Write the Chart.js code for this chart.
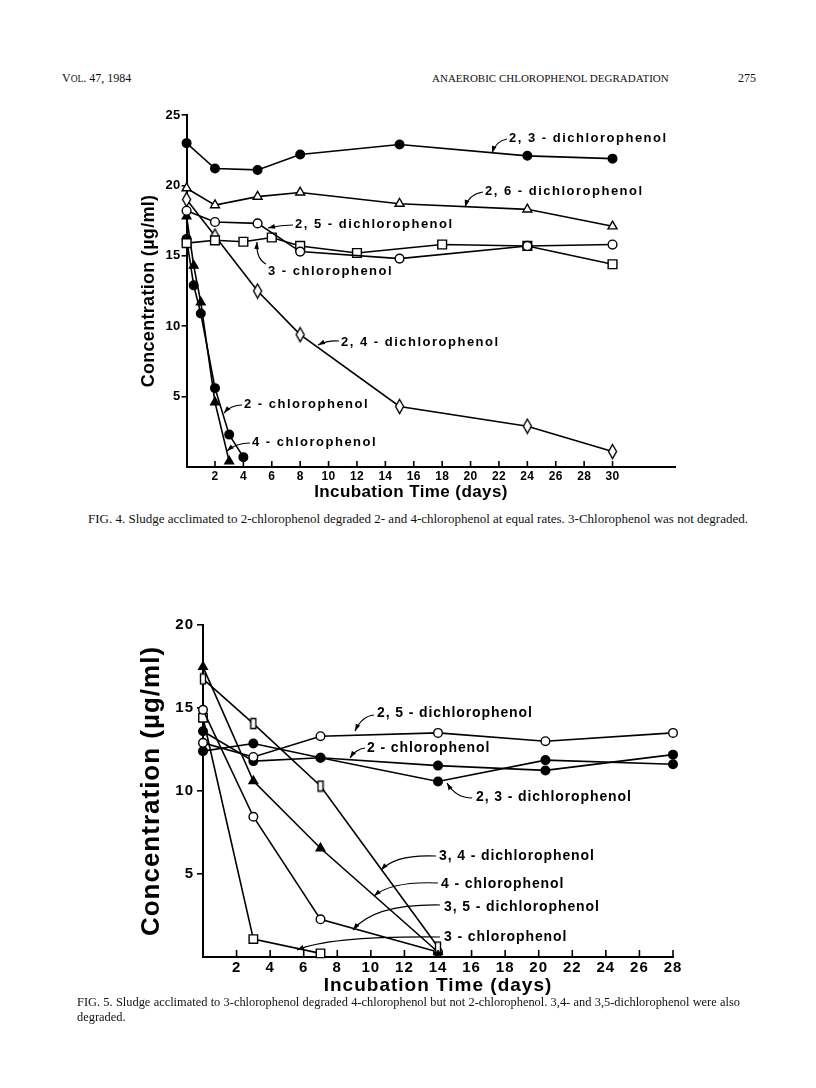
<!DOCTYPE html>
<html><head><meta charset="utf-8">
<script src="https://cdn.jsdelivr.net/npm/chart.js@4.4.0/dist/chart.umd.min.js"></script>
<style>
html,body{margin:0;padding:0;background:#fff;}
body{width:816px;height:1088px;position:relative;overflow:hidden;font-family:"Liberation Serif","Times New Roman",serif;color:#111;}
.hdr{position:absolute;top:71px;font-size:12px;line-height:14px;white-space:nowrap;}
.cap{position:absolute;font-size:13px;line-height:15px;white-space:nowrap;}
canvas{position:absolute;left:0;}
</style></head><body>
<div class="hdr" style="left:62px">V<span style="font-size:9.5px">OL</span>. 47, 1984</div>
<div class="hdr" style="left:432px;font-size:11px">ANAEROBIC CHLOROPHENOL DEGRADATION</div>
<div class="hdr" style="left:738px">275</div>
<canvas id="c4" width="816" height="405" style="top:100px"></canvas>
<div class="cap" style="left:88px;top:511px">FIG. 4. Sludge acclimated to 2-chlorophenol degraded 2- and 4-chlorophenol at equal rates. 3-Chlorophenol was not degraded.</div>
<canvas id="c5" width="816" height="390" style="top:610px"></canvas>
<div class="cap" style="left:77px;top:995px;width:663px;font-size:12.4px;text-align:justify;text-align-last:justify;">FIG. 5. Sludge acclimated to 3-chlorophenol degraded 4-chlorophenol but not 2-chlorophenol. 3,4- and 3,5-dichlorophenol were also</div>
<div class="cap" style="left:77px;top:1010px;font-size:12.4px">degraded.</div>
<script>
// ---------------- DATA: Figure 4 ----------------
const fig4Names = ['2, 3 - dichlorophenol','2, 6 - dichlorophenol','2, 5 - dichlorophenol','3 - chlorophenol','2, 4 - dichlorophenol','2 - chlorophenol','4 - chlorophenol'];
const fig4DaysA = [0, 2, 5, 8, 15, 24, 30];
const fig4_23DCP = [23.0, 21.2, 21.1, 22.2, 22.9, 22.1, 21.9];
const fig4_26DCP = [19.8, 18.6, 19.2, 19.5, 18.7, 18.3, 17.1];
const fig4_25DCP = [18.2, 17.4, 17.3, 15.3, 14.8, 15.7, 15.8];
const fig4_24DCP = [19.0, 16.4, 12.5, 9.4, 4.3, 2.9, 1.1];
const fig4Days3CP = [0, 2, 4, 6, 8, 12, 18, 24, 30];
const fig4_3CP = [15.9, 16.1, 16.0, 16.3, 15.7, 15.2, 15.8, 15.7, 14.4];
const fig4Days2CP = [0, 0.5, 1, 2, 3, 4];
const fig4_2CP = [16.2, 12.9, 10.9, 5.6, 2.3, 0.7];
const fig4Days4CP = [0, 0.5, 1, 2, 3];
const fig4_4CP = [17.8, 14.3, 11.7, 4.6, 0.4];
const fig4XTicks = [2,4,6,8,10,12,14,16,18,20,22,24,26,28,30];
const fig4YTicks = [5,10,15,20,25];

// ---------------- DATA: Figure 5 ----------------
const fig5Names = ['2, 5 - dichlorophenol','2 - chlorophenol','2, 3 - dichlorophenol','3, 4 - dichlorophenol','4 - chlorophenol','3, 5 - dichlorophenol','3 - chlorophenol'];
const fig5DaysLong = [0, 3, 7, 14, 20.4, 28];
const fig5_25DCP = [12.9, 12.05, 13.3, 13.5, 13.0, 13.5];
const fig5_2CP = [12.4, 12.86, 12.0, 11.53, 11.24, 12.19];
const fig5_23DCP = [13.6, 11.8, 12.0, 10.57, 11.86, 11.61];
const fig5DaysShort = [0, 3, 7, 14];
const fig5_34DCP = [16.75, 14.06, 10.3, 0.6];
const fig5_4CP = [17.48, 10.6, 6.55, 0.3];
const fig5_35DCP = [14.89, 8.45, 2.27, 0.3];
const fig5Days3CP = [0, 3, 7];
const fig5_3CP = [14.41, 1.08, 0.22];
const fig5XTicks = [2,4,6,8,10,12,14,16,18,20,22,24,26,28];
const fig5YTicks = [5,10,15,20];

const xTitleText = 'Incubation Time (days)';
const yTitleText = 'Concentration (\u00b5g/ml)';

// ---------------- helpers ----------------
const F = "'Liberation Sans', Arial, Helvetica, sans-serif";
const pts = (xs, ys) => xs.map((x, i) => ({x: x, y: ys[i]}));

function shapeCanvas(kind, w, h, lw) {
  const c = document.createElement('canvas');
  c.width = Math.ceil(w + lw * 2); c.height = Math.ceil(h + lw * 2);
  const g = c.getContext('2d');
  const cx = c.width / 2, cy = c.height / 2;
  g.beginPath();
  if (kind === 'diamond') {
    g.moveTo(cx, cy - h / 2); g.lineTo(cx + w / 2, cy); g.lineTo(cx, cy + h / 2); g.lineTo(cx - w / 2, cy); g.closePath();
  } else {
    g.rect(cx - w / 2, cy - h / 2, w, h);
  }
  g.fillStyle = '#fff'; g.fill();
  g.lineWidth = lw; g.strokeStyle = '#000'; g.stroke();
  return c;
}
const tallDiamond = shapeCanvas('diamond', 8, 14, 1.4);
const narrowRect = shapeCanvas('rect', 5, 10, 1.4);

function ds(label, data, style, radius, filled) {
  return {
    label: label, data: data, showLine: true, tension: 0,
    borderColor: '#000', borderWidth: 1.6,
    pointStyle: style, pointRadius: radius, pointHoverRadius: radius,
    pointBackgroundColor: filled ? '#000' : '#fff', pointBorderColor: '#000', pointBorderWidth: 1.4,
    clip: false, fill: false
  };
}

function inwardTicks(len) {
  return {
    id: 'inwardTicks',
    afterDraw(chart) {
      const xs = chart.scales.x, ctx = chart.ctx, y0 = chart.chartArea.bottom;
      ctx.save(); ctx.strokeStyle = '#000'; ctx.lineWidth = 1.6;
      xs.ticks.forEach(t => {
        const px = xs.getPixelForValue(t.value);
        ctx.beginPath(); ctx.moveTo(px, y0); ctx.lineTo(px, y0 - len); ctx.stroke();
      });
      ctx.restore();
    }
  };
}
function spacingPlugin(sp) {
  return { id: 'spacing', beforeDraw(chart) { chart.ctx.letterSpacing = sp + 'px'; } };
}
// free-standing axis title (used where the original title is not centred on the axis)
function freeTitle(text, x, y, size, sp) {
  return {
    id: 'freeTitle',
    afterDraw(chart) {
      const ctx = chart.ctx;
      ctx.save();
      ctx.font = 'bold ' + size + 'px ' + F; ctx.letterSpacing = sp + 'px';
      ctx.fillStyle = '#000'; ctx.textAlign = 'center'; ctx.textBaseline = 'middle';
      ctx.fillText(text, x, y);
      ctx.restore();
    }
  };
}
function annotations(items, top, size, sp) {
  return {
    id: 'annot',
    afterDraw(chart) {
      const ctx = chart.ctx;
      ctx.save();
      ctx.font = 'bold ' + size + 'px ' + F;
      ctx.letterSpacing = sp + 'px';
      ctx.fillStyle = '#000'; ctx.strokeStyle = '#000';
      ctx.textBaseline = 'middle'; ctx.textAlign = 'left';
      items.forEach(a => {
        ctx.fillText(chart.data.datasets[a.ds].label, a.tx, a.ty - top);
        const [x0, y0, cx, cy, x1, y1] = a.arrow;
        ctx.beginPath(); ctx.lineWidth = 1.2;
        ctx.moveTo(x0, y0 - top); ctx.quadraticCurveTo(cx, cy - top, x1, y1 - top); ctx.stroke();
        const ang = Math.atan2(y1 - cy, x1 - cx), L = 7, W = 2.4;
        const bx = x1 - L * Math.cos(ang), by = y1 - top - L * Math.sin(ang);
        ctx.beginPath();
        ctx.moveTo(x1, y1 - top);
        ctx.lineTo(bx + W * Math.sin(ang), by - W * Math.cos(ang));
        ctx.lineTo(bx - W * Math.sin(ang), by + W * Math.cos(ang));
        ctx.closePath(); ctx.fill();
      });
      ctx.restore();
    }
  };
}

function axes(o) {
  return {
    x: {
      type: 'linear', min: 0, max: o.xMax,
      afterBuildTicks: s => { s.ticks = o.xTicks.map(v => ({value: v})); },
      afterFit: s => { s.height = o.xH; },
      grid: {display: true, drawOnChartArea: false, drawTicks: false, color: '#000'},
      border: {display: true, color: '#000', width: 2},
      ticks: {color: '#000', autoSkip: false, maxRotation: 0, padding: o.xPad,
              font: {family: F, size: o.xTickSize, weight: 'bold'}, callback: v => String(v)},
      title: {display: o.xTitleShow, text: xTitleText, color: '#000',
              font: {family: F, size: o.xTitleSize, weight: 'bold'}, padding: {top: 0, bottom: o.xTitlePad}}
    },
    y: {
      type: 'linear', min: 0, max: o.yMax,
      afterBuildTicks: s => { s.ticks = o.yTicks.map(v => ({value: v})); },
      afterFit: s => { s.width = o.yW; },
      grid: {display: true, drawOnChartArea: false, drawTicks: true, tickLength: o.yTickLen, color: '#000', lineWidth: 1.6},
      border: {display: true, color: '#000', width: 2},
      ticks: {color: '#000', padding: o.yPad, font: {family: F, size: o.yTickSize, weight: 'bold'}, callback: v => String(v)},
      title: {display: true, text: yTitleText, color: '#000',
              font: {family: F, size: o.yTitleSize, weight: 'bold'}, padding: {top: o.yTitlePad, bottom: 0}}
    }
  };
}

// ---------------- Figure 4 ----------------
new Chart(document.getElementById('c4'), {
  type: 'scatter',
  data: { datasets: [
    ds(fig4Names[0], pts(fig4DaysA, fig4_23DCP), 'circle', 4.3, true),
    ds(fig4Names[1], pts(fig4DaysA, fig4_26DCP), 'triangle', 5.2, false),
    ds(fig4Names[2], pts(fig4DaysA, fig4_25DCP), 'circle', 4.4, false),
    ds(fig4Names[3], pts(fig4Days3CP, fig4_3CP), 'rect', 6.2, false),
    ds(fig4Names[4], pts(fig4DaysA, fig4_24DCP), tallDiamond, 5, false),
    ds(fig4Names[5], pts(fig4Days2CP, fig4_2CP), 'circle', 4.3, true),
    ds(fig4Names[6], pts(fig4Days4CP, fig4_4CP), 'triangle', 5.0, true)
  ]},
  options: {
    responsive: false, animation: false, events: [],
    layout: {padding: {left: 0, right: 141, top: 15, bottom: 0}},
    plugins: {legend: {display: false}, tooltip: {enabled: false}},
    scales: axes({xMax: 34.4, xTicks: fig4XTicks, xH: 38, xPad: 2, xTickSize: 12, xTitleShow: false, xTitleSize: 17, xTitlePad: 0,
                  yMax: 25, yTicks: fig4YTicks, yW: 186.6, yTickLen: 5, yPad: 1, yTickSize: 13, yTitleSize: 18, yTitlePad: 138})
  },
  plugins: [spacingPlugin(0.3), inwardTicks(6), freeTitle(xTitleText, 411, 392.5, 17, 0.4), annotations([
    {ds: 0, tx: 509, ty: 138, arrow: [507, 139, 496, 141, 492, 153]},
    {ds: 1, tx: 485, ty: 191, arrow: [483, 192, 469, 194, 465, 207]},
    {ds: 2, tx: 295, ty: 224, arrow: [293, 225, 281, 225, 268, 228]},
    {ds: 3, tx: 268, ty: 271, arrow: [266, 264, 256, 259, 257, 242]},
    {ds: 4, tx: 341, ty: 342, arrow: [339, 341, 328, 340, 318, 345]},
    {ds: 5, tx: 244, ty: 404, arrow: [242, 405, 231, 405, 224, 413]},
    {ds: 6, tx: 252, ty: 442, arrow: [250, 443, 236, 443, 227, 451]}
  ], 100, 13, 1.5)]
});

// ---------------- Figure 5 ----------------
new Chart(document.getElementById('c5'), {
  type: 'scatter',
  data: { datasets: [
    ds(fig5Names[0], pts(fig5DaysLong, fig5_25DCP), 'circle', 4.3, false),
    ds(fig5Names[1], pts(fig5DaysLong, fig5_2CP), 'circle', 4.3, true),
    ds(fig5Names[2], pts(fig5DaysLong, fig5_23DCP), 'circle', 4.3, true),
    ds(fig5Names[3], pts(fig5DaysShort, fig5_34DCP), narrowRect, 5, false),
    ds(fig5Names[4], pts(fig5DaysShort, fig5_4CP), 'triangle', 5.0, true),
    ds(fig5Names[5], pts(fig5DaysShort, fig5_35DCP), 'circle', 4.3, false),
    ds(fig5Names[6], pts(fig5Days3CP, fig5_3CP), 'rect', 6.0, false)
  ]},
  options: {
    responsive: false, animation: false, events: [],
    layout: {padding: {left: 0, right: 143, top: 15, bottom: 0}},
    plugins: {legend: {display: false}, tooltip: {enabled: false}},
    scales: axes({xMax: 28, xTicks: fig5XTicks, xH: 43, xPad: 2, xTickSize: 15, xTitleShow: true, xTitleSize: 19, xTitlePad: 3,
                  yMax: 20, yTicks: fig5YTicks, yW: 203, yTickLen: 6, yPad: 3, yTickSize: 15, yTitleSize: 26, yTitlePad: 136})
  },
  plugins: [spacingPlugin(1.0), inwardTicks(7), annotations([
    {ds: 0, tx: 377, ty: 713, arrow: [374, 715, 362, 716, 355, 731]},
    {ds: 1, tx: 367, ty: 748, arrow: [365, 748, 356, 749, 350, 758]},
    {ds: 2, tx: 476, ty: 797, arrow: [472, 798, 456, 798, 447, 783]},
    {ds: 3, tx: 439, ty: 856, arrow: [436, 856, 396, 854, 381, 870]},
    {ds: 4, tx: 441, ty: 884, arrow: [438, 883, 392, 881, 374, 896]},
    {ds: 5, tx: 444, ty: 907, arrow: [440, 905, 374, 904, 353, 930]},
    {ds: 6, tx: 444, ty: 937, arrow: [440, 937, 330, 936, 297, 950]}
  ], 610, 14, 0.9)]
});
</script>
</body></html>
